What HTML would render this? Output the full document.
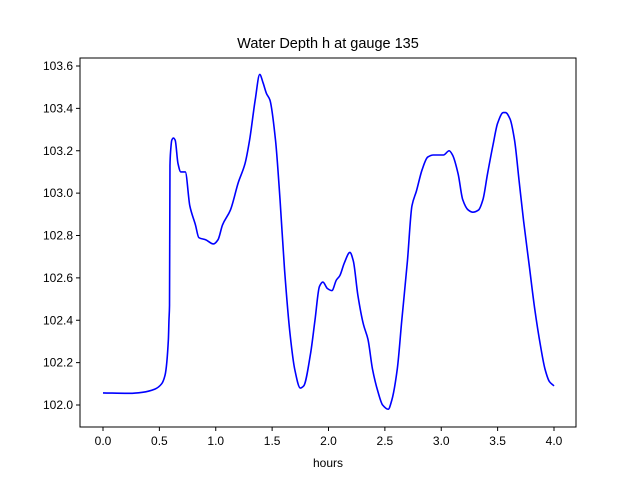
<!DOCTYPE html>
<html><head><meta charset="utf-8"><style>
body{margin:0;background:#fff;}
svg{font-family:"Liberation Sans","DejaVu Sans",sans-serif;}
</style></head><body>
<svg id="chart" width="640" height="480"></svg>
<script>
const hours=[0,0.24,0.35,0.46,0.52,0.55,0.58,0.585,0.59,0.594,0.60,0.61,0.625,0.64,0.665,0.69,0.73,0.77,0.82,0.85,0.91,0.98,1.02,1.06,1.13,1.20,1.26,1.30,1.35,1.39,1.42,1.45,1.48,1.53,1.57,1.61,1.66,1.70,1.75,1.78,1.84,1.88,1.92,1.95,1.99,2.03,2.07,2.10,2.14,2.19,2.22,2.26,2.31,2.35,2.39,2.44,2.48,2.53,2.56,2.61,2.65,2.70,2.74,2.78,2.83,2.88,2.93,2.99,3.02,3.07,3.10,3.15,3.19,3.24,3.28,3.33,3.37,3.41,3.46,3.50,3.55,3.57,3.61,3.65,3.69,3.73,3.78,3.83,3.88,3.92,3.96,4.0];
const depth=[102.057,102.055,102.06,102.075,102.10,102.14,102.31,102.40,102.47,103.13,103.20,103.25,103.26,103.25,103.14,103.10,103.10,102.94,102.85,102.79,102.78,102.76,102.78,102.85,102.92,103.05,103.14,103.25,103.44,103.56,103.52,103.47,103.44,103.25,102.97,102.64,102.33,102.17,102.08,102.09,102.24,102.40,102.56,102.58,102.55,102.54,102.59,102.61,102.67,102.72,102.68,102.52,102.38,102.31,102.17,102.06,102.00,101.98,102.02,102.17,102.40,102.68,102.94,103.01,103.11,103.17,103.18,103.18,103.18,103.20,103.18,103.09,102.97,102.92,102.91,102.92,102.97,103.09,103.23,103.33,103.38,103.38,103.35,103.25,103.06,102.87,102.66,102.45,102.28,102.17,102.11,102.09];
const xTicks=[0,0.5,1,1.5,2,2.5,3,3.5,4];
const xTickLabels=["0.0","0.5","1.0","1.5","2.0","2.5","3.0","3.5","4.0"];
const yTicks=[102.0,102.2,102.4,102.6,102.8,103.0,103.2,103.4,103.6];
const yTickLabels=["102.0","102.2","102.4","102.6","102.8","103.0","103.2","103.4","103.6"];

const L=80,R=576,T=58,B=427;
const X=v=>103+v*112.75;
const Y=v=>405-(v-102)*211.875;
const svg=document.getElementById('chart');
const NS='http://www.w3.org/2000/svg';
function mk(tag,attrs,parent){const e=document.createElementNS(NS,tag);for(const k in attrs)e.setAttribute(k,attrs[k]);(parent||svg).appendChild(e);return e;}

function monotonePath(xs,ys){
  const n=xs.length,dx=[],m=[],t=new Array(n);
  for(let i=0;i<n-1;i++){dx.push(xs[i+1]-xs[i]);m.push((ys[i+1]-ys[i])/dx[i]);}
  t[0]=m[0];t[n-1]=m[n-2];
  for(let i=1;i<n-1;i++){
    if(m[i-1]*m[i]<=0)t[i]=0;
    else{const w1=2*dx[i]+dx[i-1],w2=dx[i]+2*dx[i-1];t[i]=(w1+w2)/(w1/m[i-1]+w2/m[i]);}
  }
  let d='M'+xs[0].toFixed(2)+','+ys[0].toFixed(2);
  for(let i=0;i<n-1;i++){
    const h=dx[i]/3;
    d+=' C'+(xs[i]+h).toFixed(2)+','+(ys[i]+t[i]*h).toFixed(2)+' '+(xs[i+1]-h).toFixed(2)+','+(ys[i+1]-t[i+1]*h).toFixed(2)+' '+xs[i+1].toFixed(2)+','+ys[i+1].toFixed(2);
  }
  return d;
}
const d=monotonePath(hours.map(X),depth.map(Y));
const line=mk('path',{d:d,fill:'none',stroke:'#0000ff','stroke-width':1.6,'stroke-linejoin':'round'});



const frame=mk('rect',{x:L,y:T,width:R-L,height:B-T,fill:'none',stroke:'#000','stroke-width':1});



xTicks.forEach((v,i)=>{
  const g=mk('g',{});
  
  
  mk('line',{x1:X(v),x2:X(v),y1:B,y2:B+4,stroke:'#000'},g);
  const t=mk('text',{x:X(v),y:B+18,'text-anchor':'middle','font-size':12},g);
  t.textContent=xTickLabels[i];
});
yTicks.forEach((v,i)=>{
  const g=mk('g',{});
  
  
  mk('line',{x1:L-4,x2:L,y1:Y(v),y2:Y(v),stroke:'#000'},g);
  const t=mk('text',{x:L-7,y:Y(v)+4,'text-anchor':'end','font-size':12},g);
  t.textContent=yTickLabels[i];
});
const title=mk('text',{x:328,y:48,'text-anchor':'middle','font-size':14.5});
title.textContent='Water Depth h at gauge 135';


const xl=mk('text',{x:328,y:467,'text-anchor':'middle','font-size':12});
xl.textContent='hours';


</script>
</body></html>
